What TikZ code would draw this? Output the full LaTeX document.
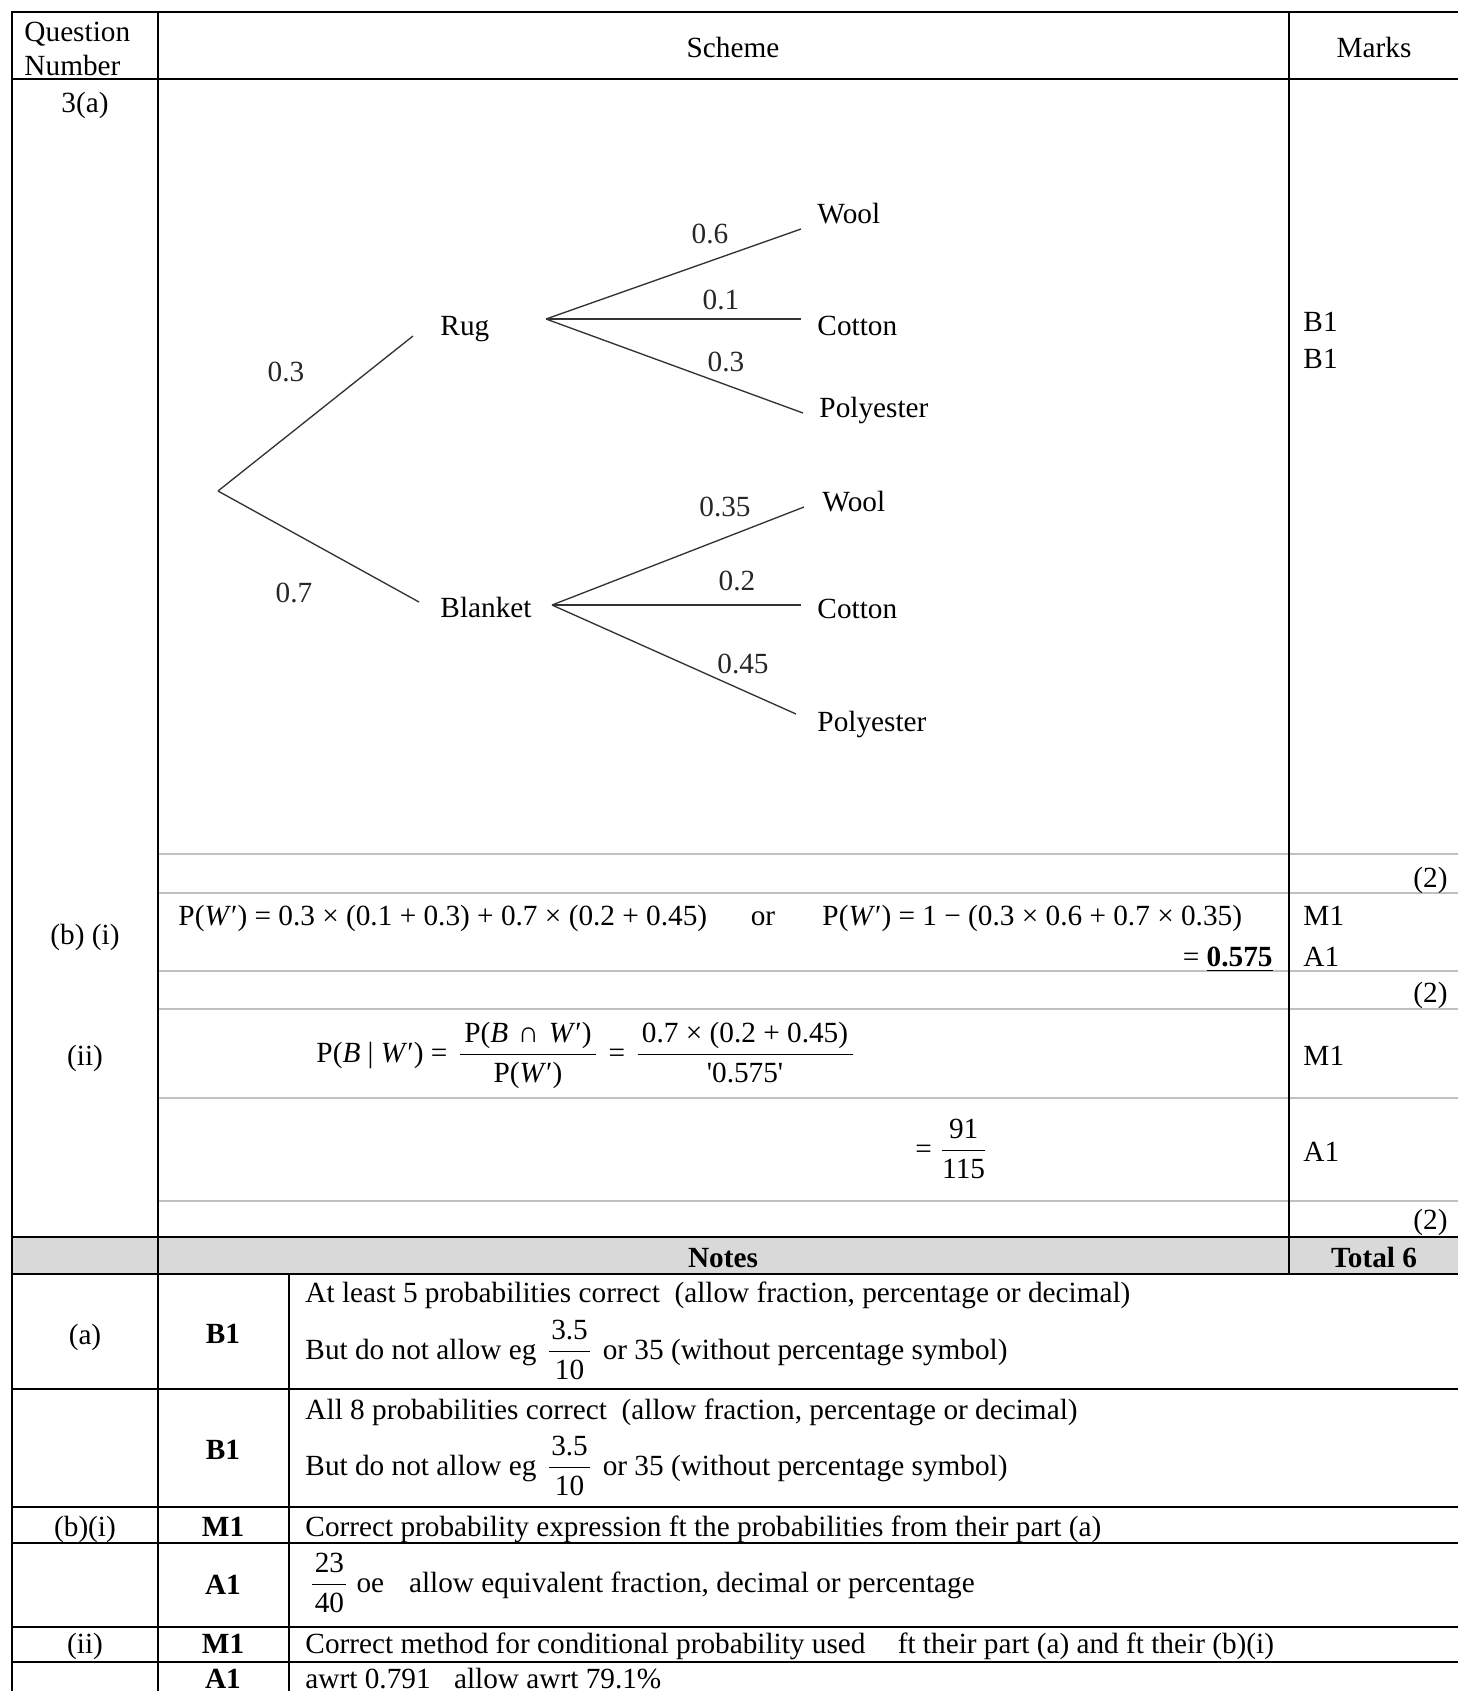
\documentclass[tikz,border=0pt]{standalone}
\usepackage{amsmath}
\usepackage{fontspec}
\setmainfont{Liberation Serif}
\usepackage{tikz}

\definecolor{rowgrey}{RGB}{192,192,192}
\definecolor{headgrey}{RGB}{217,217,217}
\newcommand{\opgap}{\hspace{0.25em}}
\newcommand{\wgap}{\hspace{0.33em}}
\newcommand{\fpad}{\hspace{0.15em}}
\newcommand{\npad}{\hspace{0.08em}}

\tikzset{
  every node/.style={inner sep=0pt, font=\fontsize{12}{14}\selectfont},
  boldword/.style={font=\fontsize{12}{14}\selectfont\bfseries},
  rule/.style={line width=0.85pt, line cap=rect},
  softrule/.style={line width=0.85pt, rowgrey},
  branch/.style={line width=0.55pt, black!80},
  word/.style={anchor=base west},
  midword/.style={anchor=base},
  endword/.style={anchor=base east},
  prob/.style={anchor=center, black!85},
}

\begin{document}
\begin{tikzpicture}[x=0.41pt,y=-0.41pt]
\useasboundingbox (0,0) rectangle (1458,1691) ;

% grid of the scheme
\fill[headgrey] (12,1237) rectangle (1458,1274) ;

\draw[softrule] (158,854) -- (1458,854) ;
\draw[softrule] (158,893) -- (1458,893) ;
\draw[softrule] (158,971) -- (1458,971) ;
\draw[softrule] (158,1009) -- (1458,1009) ;
\draw[softrule] (158,1098) -- (1458,1098) ;
\draw[softrule] (158,1201) -- (1458,1201) ;

\draw[rule] (12,12) -- (1458,12) ;
\draw[rule] (12,79) -- (1458,79) ;
\draw[rule] (12,1237) -- (1458,1237) ;
\draw[rule] (12,1274) -- (1458,1274) ;
\draw[rule] (12,1389) -- (1458,1389) ;
\draw[rule] (12,1507) -- (1458,1507) ;
\draw[rule] (12,1543) -- (1458,1543) ;
\draw[rule] (12,1627) -- (1458,1627) ;
\draw[rule] (12,1662) -- (1458,1662) ;
\draw[rule] (12,12) -- (12,1700) ;
\draw[rule] (158,12) -- (158,1700) ;
\draw[rule] (1289,12) -- (1289,1274) ;
\draw[rule] (289,1274) -- (289,1700) ;

% headings
\node[word] (qhead) at (24,41) {Question} ;
\node[word] (nhead) at (24,75) {Number} ;
\node[midword] (shead) at (733,57) {Scheme} ;
\node[midword] (mhead) at (1374,57) {Marks} ;
\node[midword] (q3a) at (85,112) {3(a)} ;

% tree diagram
\coordinate (root) at (218,491) ;
\coordinate (rugend) at (413,336) ;
\coordinate (blkend) at (419,602) ;
\coordinate (rugfork) at (546,319) ;
\coordinate (blkfork) at (552,605) ;
\coordinate (rwool) at (801,229) ;
\coordinate (rcot) at (801,319) ;
\coordinate (rpoly) at (803,413) ;
\coordinate (bwool) at (804,507) ;
\coordinate (bcot) at (801,605) ;
\coordinate (bpoly) at (796,714) ;

\node[word] (rug) at (440,335) {Rug} ;
\node[word] (blk) at (440,617) {Blanket} ;
\node[word] (rw) at (817,223) {Wool} ;
\node[word] (rc) at (817,335) {Cotton} ;
\node[word] (rp) at (819,417) {Polyester} ;
\node[word] (bw) at (822,511) {Wool} ;
\node[word] (bc) at (817,618) {Cotton} ;
\node[word] (bp) at (817,731) {Polyester} ;

\draw[branch] (root) -- (rugend) ;
\draw[branch] (root) -- (blkend) ;
\draw[branch] (rugfork) -- (rwool) ;
\draw[branch] (rugfork) -- (rcot) ;
\draw[branch] (rugfork) -- (rpoly) ;
\draw[branch] (blkfork) -- (bwool) ;
\draw[branch] (blkfork) -- (bcot) ;
\draw[branch] (blkfork) -- (bpoly) ;

\node[prob] (prug) at (286,372) {0.3} ;
\node[prob] (pblk) at (294,593) {0.7} ;
\node[prob] (prw) at (710,234) {0.6} ;
\node[prob] (prc) at (721,300) {0.1} ;
\node[prob] (prp) at (726,362) {0.3} ;
\node[prob] (pbw) at (725,507) {0.35} ;
\node[prob] (pbc) at (737,581) {0.2} ;
\node[prob] (pbp) at (743,664) {0.45} ;

\node[word] (ma1) at (1303,331) {B1} ;
\node[word] (ma2) at (1303,368) {B1} ;
\node[endword] (tot1) at (1448,887) {(2)} ;

% part (b)(i)
\node[midword] (qbi) at (85,944) {(b) (i)} ;
\node[word] (ex1) at (178,925) {P(\textit{W}′)\opgap=\opgap0.3\opgap×\opgap(0.1\opgap+\opgap0.3)\opgap+\opgap0.7\opgap×\opgap(0.2\opgap+\opgap0.45)} ;
\node[midword] (exor) at (763,925) {or} ;
\node[word] (ex2) at (822,925) {P(\textit{W}′)\opgap=\opgap1\opgap−\opgap(0.3\opgap×\opgap0.6\opgap+\opgap0.7\opgap×\opgap0.35)} ;
\node[endword] (ex3) at (1273,966) {=\opgap\underline{\textbf{0.575}}} ;
\node[word] (mb1) at (1303,925) {M1} ;
\node[word] (mb2) at (1303,966) {A1} ;
\node[endword] (tot2) at (1448,1002) {(2)} ;

% part (b)(ii)
\node[midword] (qbii) at (85,1065) {(ii)} ;
\node[word] (ex4) at (316,1062) {P(\textit{B}\opgap|\opgap\textit{W}′)\opgap=\wgap$\dfrac{\text{\fpad P(\textit{B}\wgap∩\wgap\textit{W}′)\fpad}}{\text{P(\textit{W}′)}}$\wgap=\wgap$\dfrac{\text{\fpad 0.7\opgap×\opgap(0.2\opgap+\opgap0.45)\fpad}}{\text{\textquotesingle0.575\textquotesingle}}$} ;
\node[word] (mc1) at (1303,1065) {M1} ;
\node[word] (ex5) at (915,1158) {=\opgap$\dfrac{\text{\fpad 91\fpad}}{\text{115}}$} ;
\node[word] (mc2) at (1303,1161) {A1} ;
\node[endword] (tot3) at (1448,1229) {(2)} ;

% notes
\node[midword,boldword] (notes) at (723,1267) {Notes} ;
\node[midword,boldword] (total) at (1374,1267) {Total 6} ;

\node[midword] (na) at (85,1344) {(a)} ;
\node[midword,boldword] (na1) at (223,1343) {B1} ;
\node[word] (na2) at (305,1302) {At least 5 probabilities correct\ \ (allow fraction, percentage or decimal)} ;
\node[word] (na3) at (305,1359) {But do not allow eg \npad$\dfrac{\text{\npad 3.5\npad}}{\text{10}}$\npad\ or 35 (without percentage symbol)} ;

\node[midword,boldword] (nb1) at (223,1459) {B1} ;
\node[word] (nb2) at (305,1419) {All 8 probabilities correct\ \ (allow fraction, percentage or decimal)} ;
\node[word] (nb3) at (305,1475) {But do not allow eg \npad$\dfrac{\text{\npad 3.5\npad}}{\text{10}}$\npad\ or 35 (without percentage symbol)} ;

\node[midword] (nc) at (85,1536) {(b)(i)} ;
\node[midword,boldword] (nc1) at (223,1536) {M1} ;
\node[word] (nc2) at (305,1536) {Correct probability expression ft the probabilities from their part (a)} ;

\node[midword,boldword] (nd1) at (223,1594) {A1} ;
\node[word] (nd2) at (309,1592) {$\dfrac{\text{\npad 23\npad}}{\text{40}}$ oe\hspace{0.6em} allow equivalent fraction, decimal or percentage} ;

\node[midword] (ne) at (85,1653) {(ii)} ;
\node[midword,boldword] (ne1) at (223,1653) {M1} ;
\node[word] (ne2) at (305,1653) {Correct method for conditional probability used\hspace{1.1em}ft their part (a) and ft their (b)(i)} ;

\node[midword,boldword] (nf1) at (223,1688) {A1} ;
\node[word] (nf2) at (305,1688) {awrt 0.791\hspace{0.8em}allow awrt 79.1\%} ;
\end{tikzpicture}
\end{document}
